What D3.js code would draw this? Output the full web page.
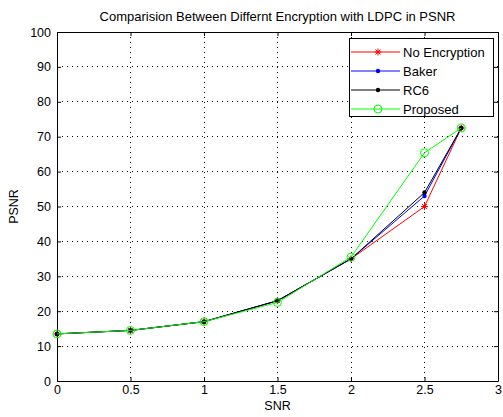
<!DOCTYPE html>
<html>
<head>
<meta charset="utf-8">
<script src="https://cdn.jsdelivr.net/npm/d3@7"></script>
<style>
  body { margin: 0; background: #fff; }
  text { font-family: "Liberation Sans", Arial, sans-serif; }
</style>
</head>
<body>
<script>
const snr = [0, 0.5, 1, 1.5, 2, 2.5, 2.75];
const noEncryption = [13.5, 14.5, 17, 23, 35, 50, 72.5];
const baker = [13.5, 14.5, 17, 23, 35, 53, 72.5];
const rc6 = [13.5, 14.5, 17, 23, 35, 54, 72.5];
const proposed = [13.5, 14.5, 17, 22.5, 35.5, 65.4, 72.5];
const xTicks = [0, 0.5, 1, 1.5, 2, 2.5, 3];
const yTicks = [0, 10, 20, 30, 40, 50, 60, 70, 80, 90, 100];

const series = [
  { name: "No Encryption", values: noEncryption, color: "#ff0000", marker: "star" },
  { name: "Baker", values: baker, color: "#0000ff", marker: "dot" },
  { name: "RC6", values: rc6, color: "#000000", marker: "dot" },
  { name: "Proposed", values: proposed, color: "#00ff00", marker: "circle" },
];

const w = 503;
const h = 417;
const padL = 57, padR = 498, padT = 32, padB = 381;

const svg = d3.select("body").append("svg").attr("width", w).attr("height", h);

const x = d3.scaleLinear().domain([0, 3]).range([padL, padR]);
const y = d3.scaleLinear().domain([0, 100]).range([padB, padT]);

// grid
svg.append("g").selectAll("line").data(xTicks.slice(1, -1)).enter().append("line")
  .attr("x1", d => x(d)).attr("x2", d => x(d)).attr("y1", padT).attr("y2", padB)
  .attr("stroke", "#000").attr("stroke-width", 1).attr("stroke-dasharray", "1,4")
  .attr("shape-rendering", "crispEdges");
svg.append("g").selectAll("line").data(yTicks.slice(1, -1)).enter().append("line")
  .attr("x1", padL).attr("x2", padR).attr("y1", d => y(d)).attr("y2", d => y(d))
  .attr("stroke", "#000").attr("stroke-width", 1).attr("stroke-dasharray", "1,4")
  .attr("shape-rendering", "crispEdges");

// axes
const fmt = d => String(d);
const xAxis = d3.axisBottom(x).tickValues(xTicks).tickFormat(fmt).tickSizeInner(-4).tickSizeOuter(0).tickPadding(4);
const yAxis = d3.axisLeft(y).tickValues(yTicks).tickFormat(fmt).tickSizeInner(-4).tickSizeOuter(0).tickPadding(6);

svg.append("g").attr("transform", "translate(0," + padB + ")").call(xAxis);
svg.append("g").attr("transform", "translate(" + padL + ",0)").call(yAxis);
svg.append("g").attr("transform", "translate(0," + padT + ")")
  .call(d3.axisTop(x).tickValues(xTicks).tickSizeInner(-4).tickSizeOuter(0).tickFormat(""));
svg.append("g").attr("transform", "translate(" + padR + ",0)")
  .call(d3.axisRight(y).tickValues(yTicks).tickSizeInner(-4).tickSizeOuter(0).tickFormat(""));

svg.selectAll(".domain").attr("stroke", "#000");
svg.selectAll(".tick line").attr("stroke", "#000");
svg.selectAll(".tick text").attr("font-size", 12.5).attr("fill", "#000")
  .attr("font-family", "'Liberation Sans', Arial, sans-serif");

// lines and markers
const line = d3.line().x((d, i) => x(snr[i])).y(d => y(d));

function drawMarker(g, type, cx, cy, color) {
  if (type === "star") {
    const s = 3.5;
    g.append("path")
      .attr("d", `M${cx - s},${cy}H${cx + s}M${cx},${cy - s}V${cy + s}` +
        `M${cx - s * 0.7},${cy - s * 0.7}L${cx + s * 0.7},${cy + s * 0.7}` +
        `M${cx - s * 0.7},${cy + s * 0.7}L${cx + s * 0.7},${cy - s * 0.7}`)
      .attr("stroke", color).attr("stroke-width", 1).attr("fill", "none");
  } else if (type === "dot") {
    g.append("circle").attr("cx", cx).attr("cy", cy).attr("r", 2.2).attr("fill", color);
  } else {
    g.append("circle").attr("cx", cx).attr("cy", cy).attr("r", 4)
      .attr("fill", "none").attr("stroke", color).attr("stroke-width", 1);
  }
}

series.forEach(s => {
  const g = svg.append("g");
  g.append("path").datum(s.values).attr("d", line)
    .attr("fill", "none").attr("stroke", s.color).attr("stroke-width", 1);
  s.values.forEach((v, i) => drawMarker(g, s.marker, x(snr[i]), y(v), s.color));
});

// legend
const lg = svg.append("g");
lg.append("rect").attr("x", 349.5).attr("y", 38.5).attr("width", 144).attr("height", 78)
  .attr("fill", "#fff").attr("stroke", "#000").attr("stroke-width", 1);
series.forEach((s, i) => {
  const ly = 52 + i * 19;
  lg.append("line").attr("x1", 351).attr("x2", 400).attr("y1", ly).attr("y2", ly)
    .attr("stroke", s.color).attr("stroke-width", 1);
  drawMarker(lg, s.marker, 378, ly, s.color);
  lg.append("text").attr("x", 403).attr("y", ly + 5).attr("font-size", 13)
    .attr("fill", "#000").text(s.name);
});

// titles
svg.append("text").attr("x", (padL + padR) / 2).attr("y", 21).attr("text-anchor", "middle")
  .attr("font-size", 13).attr("fill", "#000")
  .text("Comparision Between Differnt Encryption with LDPC in PSNR");
svg.append("text").attr("x", (padL + padR) / 2).attr("y", 410).attr("text-anchor", "middle")
  .attr("font-size", 12.5).attr("fill", "#000").text("SNR");
svg.append("text").attr("transform", "translate(18," + ((padT + padB) / 2) + ") rotate(-90)")
  .attr("text-anchor", "middle").attr("font-size", 12.5).attr("fill", "#000").text("PSNR");
</script>
</body>
</html>
